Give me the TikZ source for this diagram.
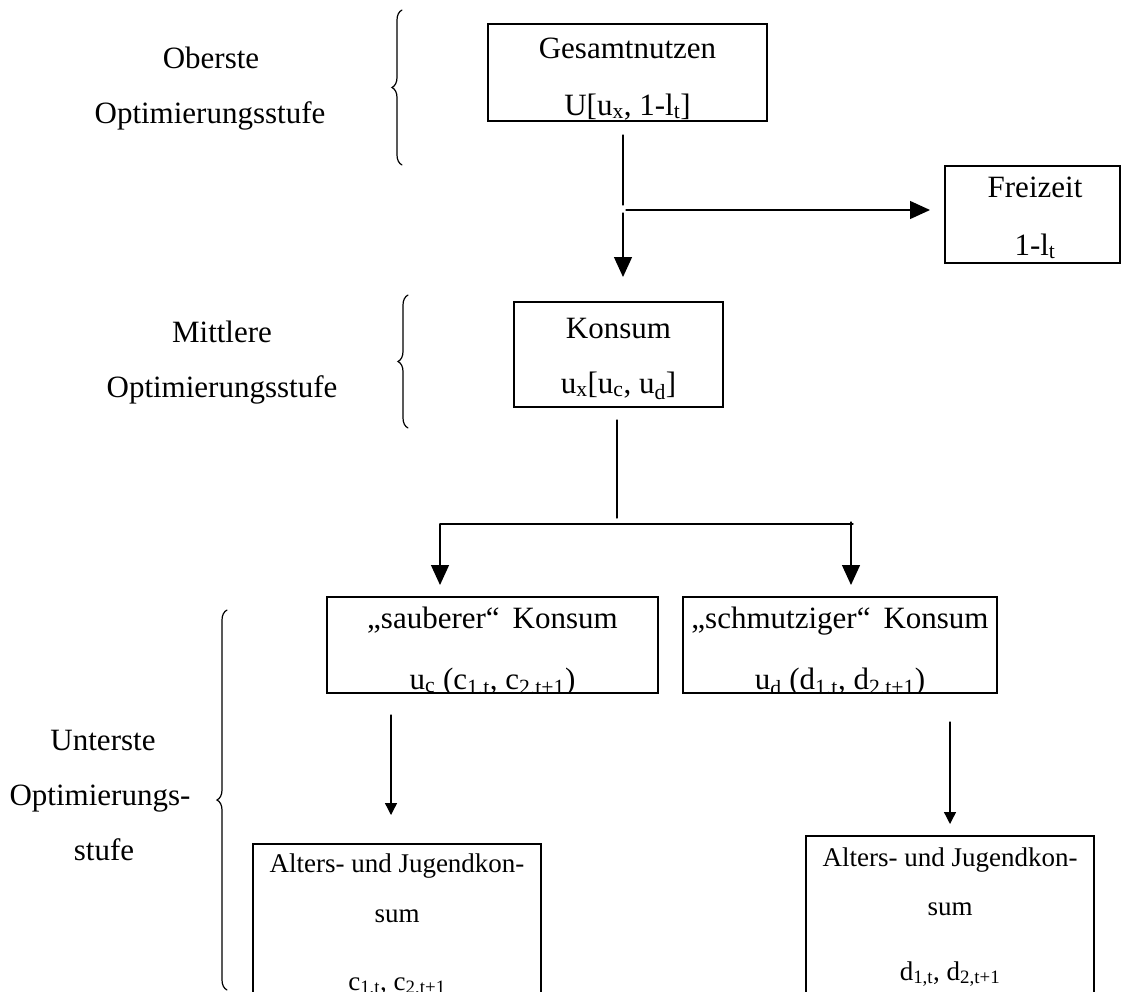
\documentclass[tikz,border=0pt]{standalone}
\usepackage{fontspec}
\setmainfont{Liberation Serif}
\usetikzlibrary{arrows.meta,decorations.pathreplacing}
\tikzset{
  kasten/.style={draw, line width=1.4pt, inner sep=0pt},
  txt/.style={anchor=base, inner sep=0pt},
  klein/.style={txt, font=\fontsize{27}{32}\selectfont},
  pfeil/.style={-{Triangle[width=18pt,length=20pt]}},
  pfeilk/.style={-{Triangle[width=12pt,length=12pt]}},
  klammer/.style={decorate, decoration={brace, amplitude=10pt}, line width=1.2pt},
}
\newcommand{\tief}[1]{\textsubscript{#1}}
\begin{document}
\begin{tikzpicture}[x=1pt, y=-1pt, line width=1.3pt, line cap=round, font=\fontsize{31}{37}\selectfont]
  \useasboundingbox (0,0) rectangle (1123,991);
  % Kaesten
  \node[kasten, minimum width=279pt, minimum height=97pt] (ges) at (627.5,72.5) {};
  \node[kasten, minimum width=175pt, minimum height=97pt] (frei) at (1032.5,214.5) {};
  \node[kasten, minimum width=209pt, minimum height=105pt] (kon) at (618.5,354.5) {};
  \node[kasten, minimum width=331pt, minimum height=96pt] (sau) at (492.5,645) {};
  \node[kasten, minimum width=314pt, minimum height=96pt] (sch) at (840,645) {};
  \node[kasten, minimum width=288pt, minimum height=166pt] (alt1) at (397,927) {};
  \node[kasten, minimum width=288pt, minimum height=174pt] (alt2) at (950,923) {};
  % Texte
  \node[txt] (gesA) at (627.5,58) {Gesamtnutzen};
  \node[txt] (gesB) at (627.5,115) {U[u\tief{x}, 1-l\tief{t}]};
  \node[txt] (freiA) at (1035,197) {Freizeit};
  \node[txt] (freiB) at (1035,255) {1-l\tief{t}};
  \node[txt] (konA) at (618.5,338) {Konsum};
  \node[txt] (konB) at (618.5,393) {u\tief{x}[u\tief{c}, u\tief{d}]};
  \node[txt] (sauA) at (492.5,628) {„sauberer“\hspace{0.42em}Konsum};
  \node[txt] (schA) at (840,628) {„schmutziger“\hspace{0.42em}Konsum};
  \begin{scope}
    \clip (sau.south west) rectangle (sch.north east);
    \node[txt] (sauB) at (492.5,689) {u\tief{c} (c\tief{1,t}, c\tief{2,t+1})};
    \node[txt] (schB) at (840,689) {u\tief{d} (d\tief{1,t}, d\tief{2,t+1})};
  \end{scope}
  \node[klein] (alt1A) at (397,872) {Alters- und Jugendkon-};
  \node[klein] (alt1B) at (397,922) {sum};
  \node[klein] (alt1C) at (397,990) {c\tief{1,t}, c\tief{2,t+1}};
  \node[klein] (alt2A) at (950,866) {Alters- und Jugendkon-};
  \node[klein] (alt2B) at (950,915) {sum};
  \node[klein] (alt2C) at (950,980) {d\tief{1,t}, d\tief{2,t+1}};
  % Stufen
  \node[txt] (ob1) at (211,68) {Oberste};
  \node[txt] (ob2) at (210,123) {Optimierungsstufe};
  \node[txt] (mi1) at (222,342) {Mittlere};
  \node[txt] (mi2) at (222,397) {Optimierungsstufe};
  \node[txt] (un1) at (103,750) {Unterste};
  \node[txt] (un2) at (100,805) {Optimierungs-};
  \node[txt] (un3) at (104,860) {stufe};
  \draw[klammer] (402,165) -- (402,10);
  \draw[klammer] (408,428) -- (408,295);
  \draw[klammer] (227,990) -- (227,610);
  % Verbindungen
  \path
  (623,135) coordinate (g1)
  (623,205) coordinate (g2)
  (623,213) coordinate (g3)
  (623,277) coordinate (g4)
  (626,210) coordinate (f1)
  (930,210) coordinate (f2)
  (617,420) coordinate (k1)
  (617,518) coordinate (k2)
  (440,524) coordinate (v1)
  (853,524) coordinate (v2)
  (440,585) coordinate (s1)
  (851,522) coordinate (d0)
  (851,585) coordinate (d1)
  (391,715) coordinate (c0)
  (391,815) coordinate (c1)
  (950,722) coordinate (e0)
  (950,824) coordinate (e1)
  ;
  \draw (g1) -- (g2);
  \draw[pfeil] (g3) -- (g4);
  \draw[pfeil] (f1) -- (f2);
  \draw (k1) -- (k2);
  \draw (v1) -- (v2);
  \draw[pfeil] (v1) -- (s1);
  \draw[pfeil] (d0) -- (d1);
  \draw[pfeilk] (c0) -- (c1);
  \draw[pfeilk] (e0) -- (e1);
\end{tikzpicture}
\end{document}
